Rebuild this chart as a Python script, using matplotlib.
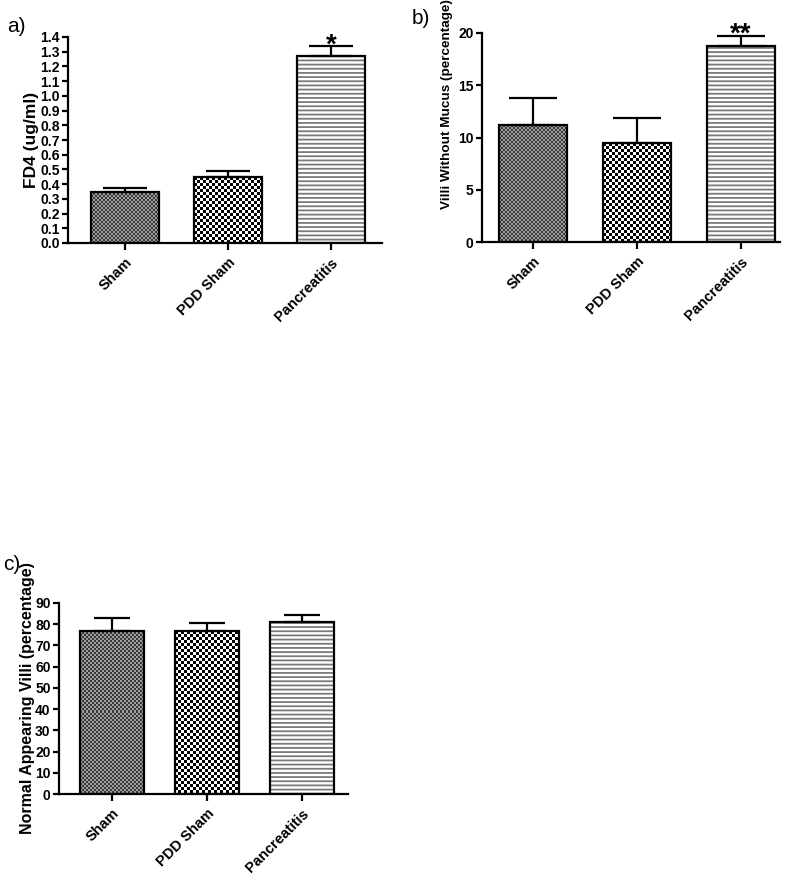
import numpy as np
import matplotlib
matplotlib.use("Agg")
import matplotlib.pyplot as plt

plt.rcParams['font.family'] = ['Liberation Sans', 'DejaVu Sans']
plt.rcParams['hatch.linewidth'] = 1.3

categories = ['Sham', 'PDD Sham', 'Pancreatitis']

fd4_means = [0.35, 0.447, 1.272]
fd4_sem = [0.026, 0.045, 0.066]
fd4_sig = ['', '', '*']

mucus_means = [11.15, 9.45, 18.77]
mucus_sem = [2.65, 2.45, 0.93]
mucus_sig = ['', '', '**']

normal_means = [77.0, 76.6, 81.1]
normal_sem = [6.0, 4.0, 3.3]
normal_sig = ['', '', '']

fig = plt.figure(figsize=(8.0, 8.76), dpi=100)
renderer = fig.canvas.get_renderer()


def checker(h, w, s, c0, c1):
    r = np.arange(h)[:, None] // s
    c = np.arange(w)[None, :] // s
    m = (r + c) % 2
    return np.where(m == 0, c0, c1).astype(float)


def panel(rect, means, sems, sig, ylim, yticks, yfmt, ylabel, ylab_xy, ylab_size,
          xlim, width, capsize, letter, letter_xy, star_off):
    ax = fig.add_axes(rect)
    x = np.arange(len(categories))
    ax.set_xlim(*xlim)
    ax.set_ylim(*ylim)
    bars = ax.bar(x, means, width=width, facecolor='none', edgecolor='black',
                  linewidth=1.6, zorder=3)
    specs = [(2, 0.22, 0.62), (3, 0.0, 1.0)]
    for i, (s, c0, c1) in enumerate(specs):
        b = bars[i]
        bb = b.get_window_extent(renderer)
        h = max(int(round(bb.height)), 1)
        w = max(int(round(bb.width)), 1)
        tex = checker(h, w, s, c0, c1)
        ax.imshow(tex, extent=(b.get_x(), b.get_x() + b.get_width(), 0, b.get_height()),
                  aspect='auto', interpolation='nearest', cmap='gray', vmin=0, vmax=1,
                  zorder=1)
    ax.bar(x[2], means[2], width=width, facecolor='white', edgecolor='#7a7a7a',
           hatch='----', linewidth=0, zorder=1)
    ax.set_xlim(*xlim)
    ax.set_ylim(*ylim)
    ax.errorbar(x, means, yerr=[np.zeros(len(sems)), sems], fmt='none', ecolor='black',
                elinewidth=1.6, capsize=capsize, capthick=1.6, zorder=2, clip_on=False)
    for xi, m, e, s in zip(x, means, sems, sig):
        if s:
            ax.annotate(s, xy=(xi, m + e), xytext=(0, star_off), textcoords='offset points',
                        ha='center', va='center', fontsize=20, fontweight='bold',
                        annotation_clip=False)
    for sp in ['top', 'right']:
        ax.spines[sp].set_visible(False)
    for sp in ['left', 'bottom']:
        ax.spines[sp].set_linewidth(1.6)
    ax.set_yticks(yticks)
    ax.set_yticklabels([yfmt.format(v) for v in yticks], fontsize=10, fontweight='bold')
    ax.set_xticks(x)
    ax.set_xticklabels(categories, rotation=45, ha='right', rotation_mode='anchor',
                       fontsize=10.5, fontweight='bold')
    ax.tick_params(axis='both', direction='out', width=1.6, length=4, pad=2)
    ax.tick_params(axis='x', length=5, pad=4)
    ax.set_ylabel(ylabel, fontsize=ylab_size, fontweight='bold')
    ax.yaxis.set_label_coords(*ylab_xy)
    fig.text(letter_xy[0] / 800, 1 - letter_xy[1] / 876, letter, fontsize=15,
             ha='center', va='center')
    return ax


panel([68 / 800, 1 - 243 / 876, 314 / 800, 206 / 876], fd4_means, fd4_sem, fd4_sig,
      (0, 1.4), np.round(np.arange(0, 1.41, 0.1), 1), '{:.1f}', 'FD4 (ug/ml)',
      (-0.092, 0.5), 12.5, (-0.553, 2.495), 0.66, 16, 'a)', (16, 26), 0)

panel([482 / 800, 1 - 242 / 876, 298 / 800, 209 / 876], mucus_means, mucus_sem, mucus_sig,
      (0, 20), [0, 5, 10, 15, 20], '{:d}', 'Villi Without Mucus (percentage)',
      (-0.097, 0.66), 9.7, (-0.49, 2.375), 0.66, 17, 'b)', (421, 19), 1)

panel([59 / 800, 1 - 794 / 876, 289 / 800, 191 / 876], normal_means, normal_sem, normal_sig,
      (0, 90), list(range(0, 91, 10)), '{:d}', 'Normal Appearing Villi (percentage)',
      (-0.083, 0.5), 11.5, (-0.555, 2.485), 0.67, 13, 'c)', (12, 565), 5)

fig.savefig('out.png', dpi=100)
